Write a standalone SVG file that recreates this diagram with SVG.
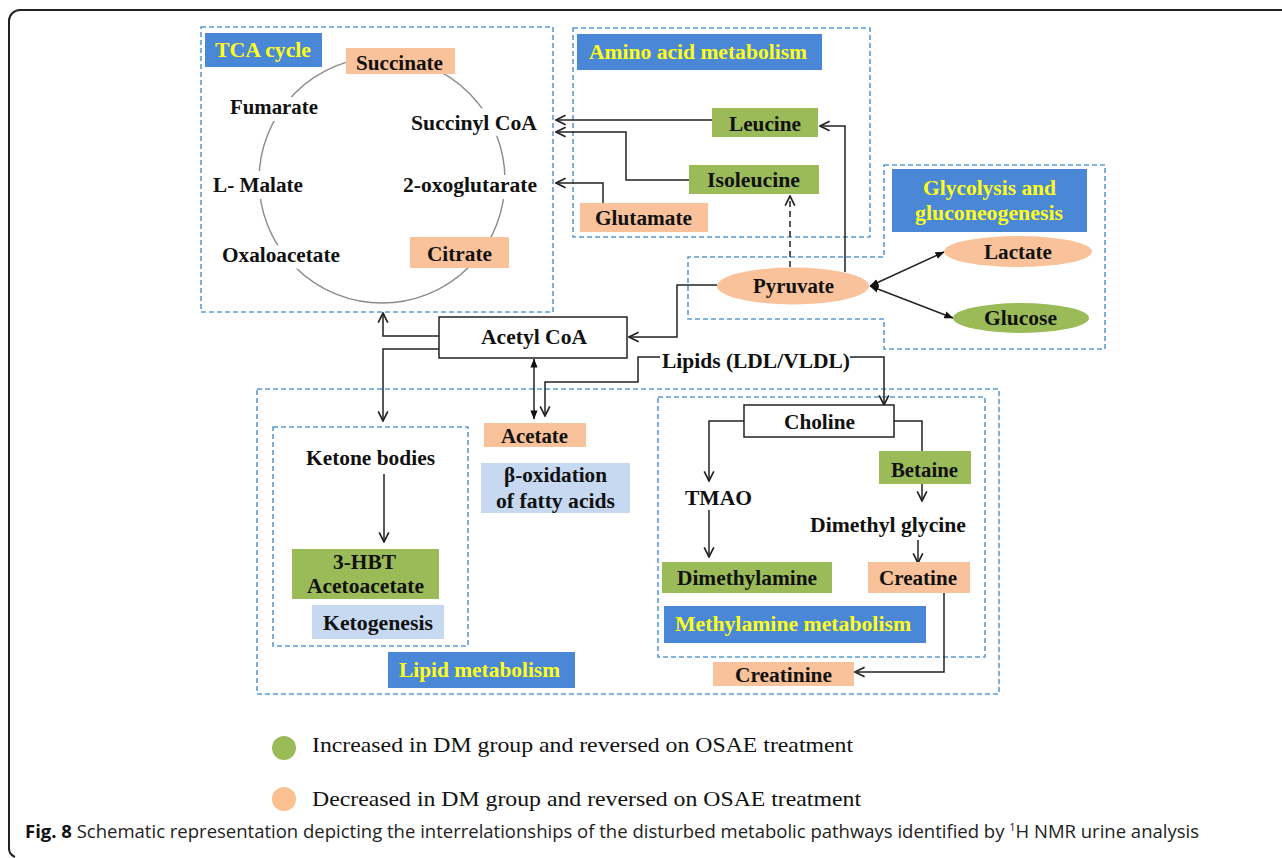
<svg xmlns="http://www.w3.org/2000/svg" width="1282" height="858" viewBox="0 0 1282 858">
<style>
.t{font-family:"Liberation Serif","Times New Roman",serif;font-weight:bold;font-size:20px;fill:#111}
.y{fill:#ffff1a}
.h{paint-order:stroke;stroke:#fff;stroke-width:14px;stroke-linejoin:round}
.lg{font-family:"Liberation Serif","Times New Roman",serif;font-size:21px;fill:#111}
.cap{font-family:"Open Sans","Noto Sans",sans-serif;font-size:18.5px;fill:#222}
.dash{fill:none;stroke:#5b9bd5;stroke-width:1.6;stroke-dasharray:5 3}
.lab{fill:#4a87d6}
.or{fill:#f9c29a}
.gr{fill:#9bbb59}
.lb{fill:#c6d9f1}
.wb{fill:#fff;stroke:#222;stroke-width:1.5}
.c{fill:none;stroke:#222;stroke-width:1.5}
.o{marker-end:url(#open)}
.f{marker-end:url(#fill);marker-start:url(#fill)}
</style>
<defs>
<marker id="open" viewBox="0 0 10 10" refX="9" refY="5" markerWidth="12" markerHeight="12" markerUnits="userSpaceOnUse" orient="auto-start-reverse"><path d="M1,1 L9,5 L1,9" fill="none" stroke="#222" stroke-width="1.4"/></marker>
<marker id="fill" viewBox="0 0 10 10" refX="9.5" refY="5" markerWidth="9" markerHeight="9" markerUnits="userSpaceOnUse" orient="auto-start-reverse"><path d="M0,1 L10,5 L0,9 z" fill="#111"/></marker>
</defs>
<rect width="1282" height="858" fill="#fff"/>
<path d="M1282,10 H20 A11,11 0 0 0 9,21 V847 A10,10 0 0 0 15,857" fill="none" stroke="#222" stroke-width="2"/>

<g id="regions">
<rect class="dash" x="201" y="27" width="352" height="285"/>
<rect class="dash" x="573" y="28" width="297" height="209"/>
<path class="dash" d="M884,165 H1105 V349 H884 V319 H688 V257 H884 Z"/>
<rect class="dash" x="257" y="389" width="742" height="305"/>
<rect class="dash" x="273" y="427" width="195" height="219"/>
<rect class="dash" x="658" y="397" width="327" height="260"/>
</g>

<g id="connectors">
<circle cx="382" cy="180" r="123" fill="none" stroke="#8a8a8a" stroke-width="1.4"/>
<path class="c o" d="M712,120 H556"/>
<path class="c o" d="M689,180 H626 V132 H556"/>
<path class="c o" d="M603,203 V183 H556"/>
<path class="c o" d="M845,272 V126 H820"/>
<path class="c o" d="M790,267 V196" stroke-dasharray="6 4"/>
<path class="c o" d="M717,285 H677 V337 H629"/>
<path class="c f" d="M870,286 L944,252"/>
<path class="c f" d="M870,286 L953,318"/>
<path class="c o" d="M439,336 H383 V313"/>
<path class="c o" d="M439,349 H383 V421"/>
<path class="c f" d="M534,359 V419"/>
<path class="c o" d="M660,357 H638 V382 H545 V416"/>
<path class="c o" d="M850,357 H884 V405"/>
<path class="c o" d="M384,474 V542"/>
<path class="c o" d="M744,421 H709 V481"/>
<path class="c o" d="M709,510 V557"/>
<path class="c" d="M894,421 H922 V451"/>
<path class="c o" d="M922,484 V501"/>
<path class="c o" d="M918,540 V563"/>
<path class="c o" d="M944,593 V672 H855"/>
</g>

<g id="tca-label"><rect class="lab" x="205" y="33" width="117" height="34"/><text class="t y" x="215" y="57" textLength="96" lengthAdjust="spacingAndGlyphs">TCA cycle</text></g>
<g id="succinate"><rect class="or" x="346" y="48" width="109" height="26"/><text class="t" x="356" y="70" textLength="87" lengthAdjust="spacingAndGlyphs">Succinate</text></g>
<g id="fumarate"><text class="t h" x="230" y="114" textLength="88" lengthAdjust="spacingAndGlyphs">Fumarate</text></g>
<g id="succinyl-coa"><text class="t h" x="411" y="130" textLength="126" lengthAdjust="spacingAndGlyphs">Succinyl CoA</text></g>
<g id="l-malate"><text class="t h" x="213" y="192" textLength="90" lengthAdjust="spacingAndGlyphs">L- Malate</text></g>
<g id="oxoglutarate"><text class="t h" x="403" y="192" textLength="134" lengthAdjust="spacingAndGlyphs">2-oxoglutarate</text></g>
<g id="oxaloacetate"><text class="t h" x="222" y="262" textLength="118" lengthAdjust="spacingAndGlyphs">Oxaloacetate</text></g>
<g id="citrate"><rect class="or" x="410" y="237" width="99" height="31"/><text class="t" x="427" y="261" textLength="65" lengthAdjust="spacingAndGlyphs">Citrate</text></g>

<g id="amino-label"><rect class="lab" x="577" y="34" width="245" height="36"/><text class="t y" x="589" y="59" textLength="218" lengthAdjust="spacingAndGlyphs">Amino acid metabolism</text></g>
<g id="leucine"><rect class="gr" x="712" y="108" width="106" height="29"/><text class="t" x="729" y="131" textLength="72" lengthAdjust="spacingAndGlyphs">Leucine</text></g>
<g id="isoleucine"><rect class="gr" x="689" y="165" width="130" height="29"/><text class="t" x="707" y="187" textLength="93" lengthAdjust="spacingAndGlyphs">Isoleucine</text></g>
<g id="glutamate"><rect class="or" x="580" y="203" width="128" height="29"/><text class="t" x="595" y="225" textLength="97" lengthAdjust="spacingAndGlyphs">Glutamate</text></g>

<g id="glyco-label"><rect class="lab" x="892" y="169" width="195" height="63"/><text class="t y" x="923" y="195" textLength="133" lengthAdjust="spacingAndGlyphs">Glycolysis and</text><text class="t y" x="915" y="220" textLength="148" lengthAdjust="spacingAndGlyphs">gluconeogenesis</text></g>
<g id="pyruvate"><ellipse class="or" cx="793" cy="286" rx="76" ry="18.5"/><text class="t" x="753" y="293" textLength="81" lengthAdjust="spacingAndGlyphs">Pyruvate</text></g>
<g id="lactate"><ellipse class="or" cx="1018" cy="251.5" rx="74" ry="15.5"/><text class="t" x="984" y="259" textLength="68" lengthAdjust="spacingAndGlyphs">Lactate</text></g>
<g id="glucose"><ellipse class="gr" cx="1021" cy="318" rx="68" ry="15"/><text class="t" x="984" y="325" textLength="73" lengthAdjust="spacingAndGlyphs">Glucose</text></g>

<g id="acetyl-coa"><rect class="wb" x="439" y="317" width="188" height="41"/><text class="t" x="481" y="344" textLength="106" lengthAdjust="spacingAndGlyphs">Acetyl CoA</text></g>
<g id="lipids"><text class="t" x="662" y="368" textLength="188" lengthAdjust="spacingAndGlyphs">Lipids (LDL/VLDL)</text></g>

<g id="ketone-bodies"><text class="t" x="306" y="465" textLength="129" lengthAdjust="spacingAndGlyphs">Ketone bodies</text></g>
<g id="hbt"><rect class="gr" x="292" y="549" width="147" height="50"/><text class="t" x="333" y="569" textLength="63" lengthAdjust="spacingAndGlyphs">3-HBT</text><text class="t" x="307" y="593" textLength="117" lengthAdjust="spacingAndGlyphs">Acetoacetate</text></g>
<g id="ketogenesis"><rect class="lb" x="312" y="605" width="132" height="34"/><text class="t" x="323" y="630" textLength="110" lengthAdjust="spacingAndGlyphs">Ketogenesis</text></g>
<g id="lipid-label"><rect class="lab" x="388" y="652" width="187" height="36"/><text class="t y" x="399" y="677" textLength="161" lengthAdjust="spacingAndGlyphs">Lipid metabolism</text></g>
<g id="acetate"><rect class="or" x="484" y="423" width="102" height="24"/><text class="t" x="501" y="443" textLength="67" lengthAdjust="spacingAndGlyphs">Acetate</text></g>
<g id="beta-oxidation"><rect class="lb" x="481" y="463" width="149" height="50"/><text class="t" x="504" y="482" textLength="103" lengthAdjust="spacingAndGlyphs">β-oxidation</text><text class="t" x="496" y="508" textLength="119" lengthAdjust="spacingAndGlyphs">of fatty acids</text></g>

<g id="choline"><rect class="wb" x="744" y="405" width="150" height="32"/><text class="t" x="784" y="429" textLength="71" lengthAdjust="spacingAndGlyphs">Choline</text></g>
<g id="tmao"><text class="t" x="685" y="505" textLength="67" lengthAdjust="spacingAndGlyphs">TMAO</text></g>
<g id="dimethylamine"><rect class="gr" x="662" y="562" width="170" height="31"/><text class="t" x="677" y="585" textLength="140" lengthAdjust="spacingAndGlyphs">Dimethylamine</text></g>
<g id="betaine"><rect class="gr" x="879" y="451" width="92" height="33"/><text class="t" x="891" y="477" textLength="67" lengthAdjust="spacingAndGlyphs">Betaine</text></g>
<g id="dimethyl-glycine"><text class="t" x="810" y="532" textLength="156" lengthAdjust="spacingAndGlyphs">Dimethyl glycine</text></g>
<g id="creatine"><rect class="or" x="868" y="562" width="102" height="31"/><text class="t" x="879" y="585" textLength="78" lengthAdjust="spacingAndGlyphs">Creatine</text></g>
<g id="methylamine-label"><rect class="lab" x="664" y="606" width="262" height="37"/><text class="t y" x="675" y="631" textLength="236" lengthAdjust="spacingAndGlyphs">Methylamine metabolism</text></g>
<g id="creatinine"><rect class="or" x="713" y="662" width="141" height="24"/><text class="t" x="735" y="682" textLength="97" lengthAdjust="spacingAndGlyphs">Creatinine</text></g>

<g id="legend">
<circle cx="284" cy="748" r="12" fill="#9bbb59"/>
<text class="lg" x="312" y="752" textLength="541" lengthAdjust="spacingAndGlyphs">Increased in DM group and reversed on OSAE treatment</text>
<circle cx="284" cy="799" r="12" fill="#fac090"/>
<text class="lg" x="312" y="806" textLength="549" lengthAdjust="spacingAndGlyphs">Decreased in DM group and reversed on OSAE treatment</text>
</g>
<g id="caption">
<text class="cap" x="25" y="838"><tspan font-weight="bold" fill="#111">Fig. 8</tspan> Schematic representation depicting the interrelationships of the disturbed metabolic pathways identified by <tspan style="font-size:11px" dy="-7">1</tspan><tspan dy="7">H NMR urine analysis</tspan></text>
</g>
</svg>
